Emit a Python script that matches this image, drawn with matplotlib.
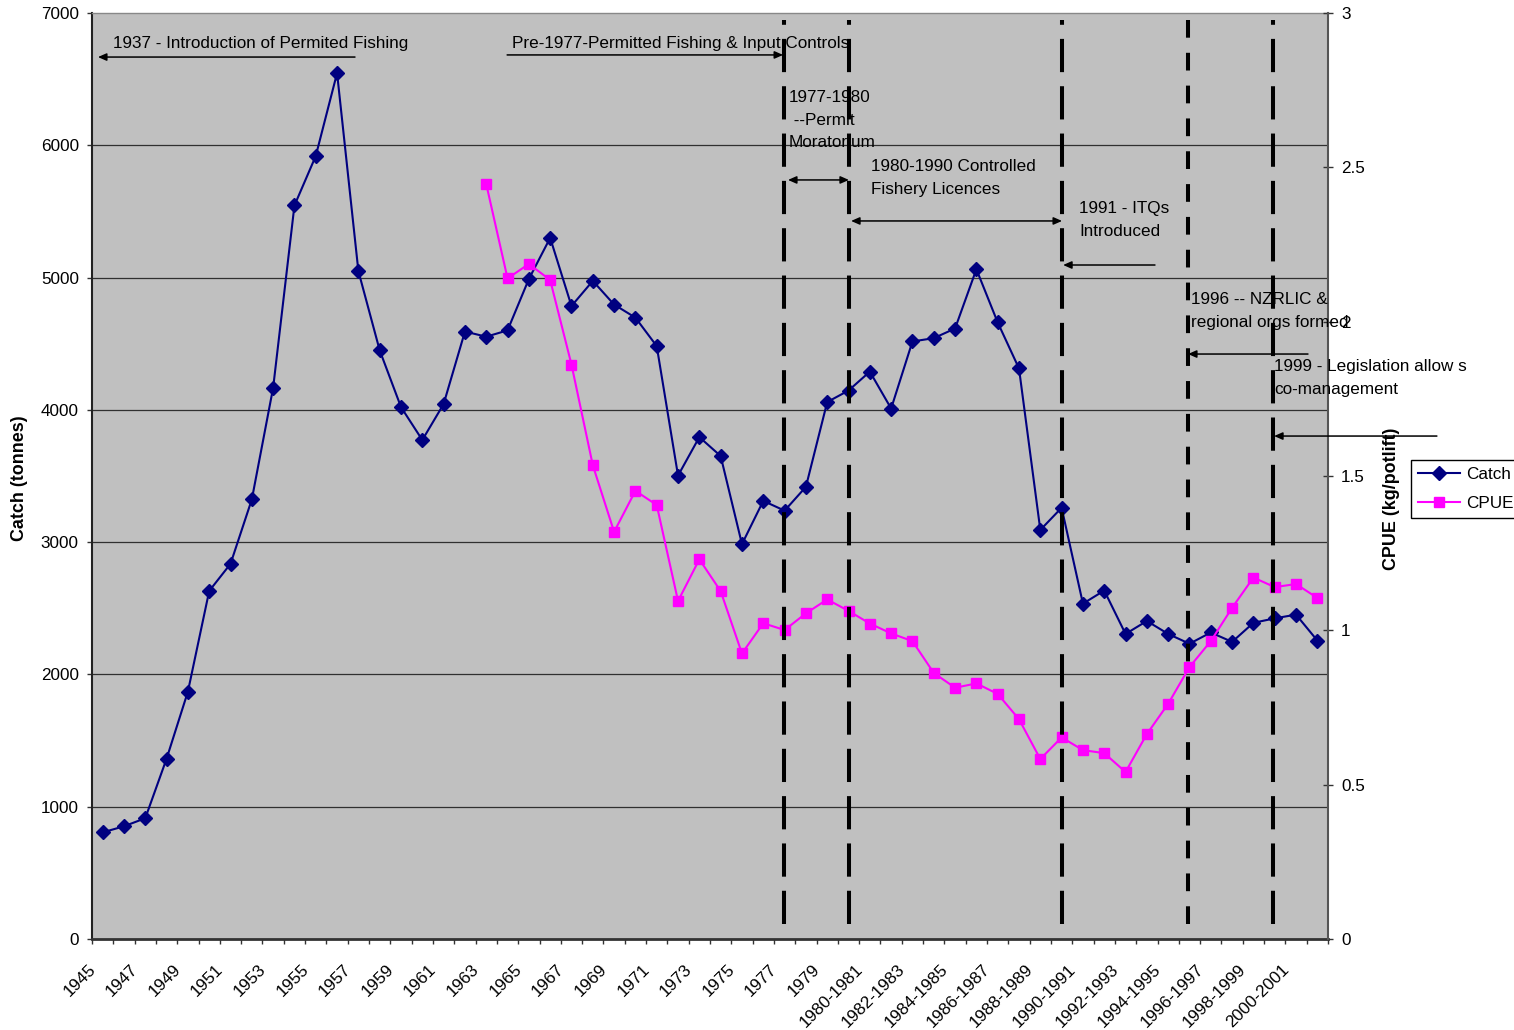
import numpy as np
import matplotlib
matplotlib.use("Agg")
import matplotlib.pyplot as plt
from matplotlib.transforms import ScaledTranslation

plt.rcParams['font.family'] = ['Liberation Sans', 'DejaVu Sans']

# ---- data -------------------------------------------------------------
periods = [
    "1945", "1946", "1947", "1948", "1949", "1950", "1951", "1952", "1953",
    "1954", "1955", "1956", "1957", "1958", "1959", "1960", "1961", "1962",
    "1963", "1964", "1965", "1966", "1967", "1968", "1969", "1970", "1971",
    "1972", "1973", "1974", "1975", "1976", "1977", "1978", "1979",
    "1979-1980", "1980-1981", "1981-1982", "1982-1983", "1983-1984",
    "1984-1985", "1985-1986", "1986-1987", "1987-1988", "1988-1989",
    "1989-1990", "1990-1991", "1991-1992", "1992-1993", "1993-1994",
    "1994-1995", "1995-1996", "1996-1997", "1997-1998", "1998-1999",
    "1999-2000", "2000-2001", "2001-2002",
]

catch_tonnes = [
    806, 852, 913, 1363, 1870, 2631, 2836, 3323, 4167,
    5545, 5919, 6546, 5049, 4450, 4021, 3772, 4044, 4592,
    4553, 4601, 4989, 5300, 4785, 4975, 4796, 4697, 4482,
    3503, 3794, 3651, 2985, 3312, 3238, 3418, 4059,
    4146, 4289, 4010, 4517, 4542,
    4615, 5063, 4661, 4313, 3092,
    3260, 2535, 2634, 2306, 2404,
    2306, 2232, 2317, 2246, 2390,
    2424, 2452, 2256,
]

# CPUE (kg/potlift) recorded from 1963 onwards
cpue_start = "1963"
cpue_values = [
    2.446, 2.140, 2.187, 2.135, 1.861, 1.535, 1.319, 1.452, 1.406,
    1.095, 1.230, 1.127, 0.925, 1.023, 1.001, 1.055, 1.100,
    1.063, 1.022, 0.990, 0.965, 0.862, 0.814, 0.828, 0.794, 0.712,
    0.583, 0.653, 0.612, 0.602, 0.541, 0.664, 0.762, 0.881, 0.965,
    1.073, 1.171, 1.140, 1.150, 1.105,
]

catch_ticks = [0, 1000, 2000, 3000, 4000, 5000, 6000, 7000]
cpue_ticks = [0, 0.5, 1, 1.5, 2, 2.5, 3]
cpue_tick_labels = ["0", "0.5", "1", "1.5", "2", "2.5", "3"]

# ---- figure layout ---------------------------------------------------------
W, H = 1514, 1030
L, R, T, B = 92, 1328, 13, 939
FS = 12.3
fig = plt.figure(figsize=(W / 100, H / 100), dpi=100)
ax = fig.add_axes([L / W, 1 - B / H, (R - L) / W, (B - T) / H])
ax.set_facecolor('#C0C0C0')

x = np.arange(len(periods))
i0 = periods.index(cpue_start)
cpue = np.full(len(periods), np.nan)
cpue[i0:i0 + len(cpue_values)] = cpue_values

ax.set_xlim(-0.5, len(periods) - 0.5)
ax.set_ylim(catch_ticks[0], catch_ticks[-1])
ax.set_yticks(catch_ticks)
ax.yaxis.grid(True, color='#303030', lw=0.9)
ax.set_axisbelow(True)
for t in (ax.yaxis.get_major_ticks()[0], ax.yaxis.get_major_ticks()[-1]):
    t.gridline.set_visible(False)

# category boundaries carry the tick marks; every second period is labelled
ax.set_xticks([])
ax.set_xticks(np.arange(-0.5, len(periods)), minor=True)
ax.tick_params(axis='x', which='minor', length=3.5, direction='out',
               width=1, color='#333333')
lab_tr = ax.get_xaxis_transform() + ScaledTranslation(-15 / 100, -23 / 100,
                                                      fig.dpi_scale_trans)
for i in x[::2]:
    ax.text(i, 0, periods[i], transform=lab_tr, rotation=45,
            rotation_mode='anchor', ha='right', va='top', fontsize=FS,
            clip_on=False)

ax.tick_params(axis='y', length=3.5, direction='out', width=1, pad=6,
               labelsize=FS, color='#333333')

for side, col, lw in (('left', '#222222', 1.5), ('bottom', '#333333', 2.0),
                      ('top', '#888888', 1.0)):
    ax.spines[side].set_color(col)
    ax.spines[side].set_linewidth(lw)
ax.spines['right'].set_visible(False)

ax2 = ax.twinx()
ax2.set_ylim(cpue_ticks[0], cpue_ticks[-1])
ax2.set_yticks(cpue_ticks, labels=cpue_tick_labels)
ax2.tick_params(axis='y', direction='inout', length=7, width=1, pad=6,
                labelsize=FS, color='#333333')
for side in ('left', 'top', 'bottom'):
    ax2.spines[side].set_visible(False)
ax2.spines['right'].set_color('#555555')
ax2.spines['right'].set_linewidth(1.5)

# ---- series ----------------------------------------------------------------
h1, = ax.plot(x, catch_tonnes, color='#000080', lw=1.5, marker='D', ms=7.5,
              mfc='#000080', mec='#000080', label='Catch', zorder=3)
h2, = ax2.plot(x, cpue, color='#FF00FF', lw=1.5, marker='s', ms=6.5,
               mfc='#FF00FF', mec='#FF00FF', label='CPUE', zorder=3)

fig.text(20 / W, 1 - 478 / H, 'Catch (tonnes)', rotation=90, ha='center',
         va='center', fontsize=12.9, fontweight='bold')
fig.text(1391 / W, 1 - 499 / H, 'CPUE (kg/potlift)', rotation=90,
         ha='center', va='center', fontsize=12.9, fontweight='bold')

leg = fig.legend([h1, h2], ['Catch', 'CPUE'], loc='upper left',
                 bbox_to_anchor=(1411 / W, 1 - 460 / H),
                 bbox_transform=fig.transFigure, frameon=True, fancybox=False,
                 edgecolor='black', framealpha=1, borderpad=0.4,
                 handlelength=2.45, handletextpad=0.36, labelspacing=0.85,
                 borderaxespad=0, fontsize=FS)
leg.get_frame().set_linewidth(1)

# ---- management periods ----------------------------------------------------
long_dash = (0, (8.25, 3.5))
short_dash = (0, (4.4, 3.75))
for xpos, style in ((31.97, long_dash), (35.02, long_dash), (45.0, long_dash),
                    (50.95, short_dash), (54.93, long_dash)):
    ax2.axvline(xpos, ymin=0.016, ymax=0.992, color='black', lw=2.9,
                linestyle=style, zorder=6)

notes = [
    (0.49, 6773, "1937 - Introduction of Permited Fishing"),
    (19.21, 6773, "Pre-1977-Permitted Fishing & Input Controls"),
    (32.21, 6191, "1977-1980\n --Permit\nMoratorium"),
    (36.06, 5753, "1980-1990 Controlled\nFishery Licences"),
    (45.82, 5435, "1991 - ITQs\nIntroduced"),
    (51.07, 4747, "1996 -- NZRLIC &\nregional orgs formed"),
    (54.97, 4241, "1999 - Legislation allow s\nco-management"),
]
for nx, ny, txt in notes:
    ax2.text(nx, ny, txt, transform=ax.transData, ha='left', va='center',
             fontsize=FS, linespacing=1.62, zorder=4, clip_on=False)

arrows = [
    ((11.84, 6667), (-0.22, 6667), '-|>'),
    ((18.98, 6683), (31.93, 6683), '-|>'),
    ((32.16, 5738), (35.02, 5738), '<|-|>'),
    ((35.12, 5428), (45.02, 5428), '<|-|>'),
    ((49.38, 5095), (45.07, 5095), '-|>'),
    ((56.56, 4422), (50.93, 4422), '-|>'),
    ((62.61, 3802), (54.97, 3802), '-|>'),
]
for tail, head, style in arrows:
    ax2.annotate('', xy=head, xytext=tail, xycoords=ax.transData,
                 textcoords=ax.transData, annotation_clip=False, zorder=5,
                 arrowprops=dict(arrowstyle=style + ',head_length=0.5,head_width=0.22',
                                 mutation_scale=10, color='black', lw=1.1,
                                 shrinkA=0, shrinkB=0))

fig.savefig('out.png', dpi=100)
